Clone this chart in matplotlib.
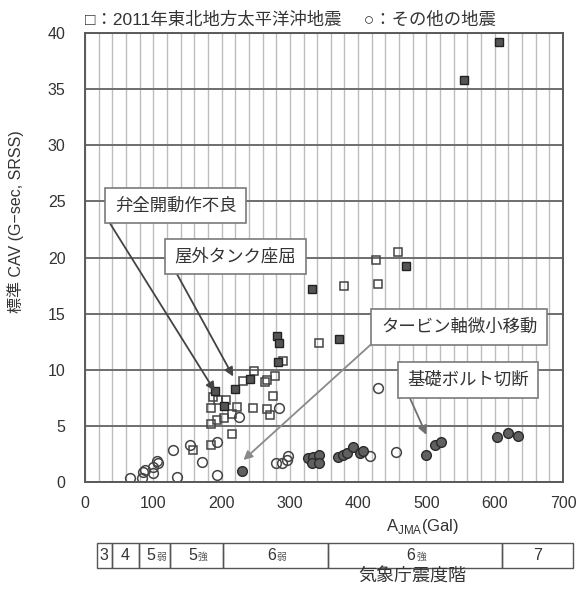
import numpy as np
import matplotlib
matplotlib.use('Agg')
import matplotlib.pyplot as plt
from matplotlib.patches import Rectangle

plt.rcParams['font.family'] = ['Liberation Sans', 'Noto Sans CJK JP']
plt.rcParams['mathtext.fontset'] = 'custom'
plt.rcParams['mathtext.rm'] = 'Liberation Sans'

# 2011 Tohoku event, damaged equipment (filled squares)
tohoku_dmg_x = [606, 555, 470, 333, 372, 281, 284, 282, 242, 220, 190, 203]
tohoku_dmg_y = [39.2, 35.8, 19.2, 17.2, 12.7, 13.0, 12.4, 10.7, 9.15, 8.3, 8.1, 6.8]
# 2011 Tohoku event, no damage (open squares)
tohoku_x = [426, 458, 380, 429, 342, 290, 278, 248, 231, 264, 266, 276, 188, 195,
            207, 185, 222, 246, 266, 271, 215, 203, 193, 185, 215, 184, 158]
tohoku_y = [19.8, 20.5, 17.5, 17.6, 12.4, 10.8, 9.4, 9.9, 9.0, 8.9, 9.1, 7.7, 7.6, 7.3,
            7.3, 6.6, 6.7, 6.6, 6.5, 6.0, 6.1, 5.7, 5.5, 5.2, 4.3, 3.3, 2.85]
# other earthquakes, damaged (filled circles)
other_dmg_x = [230, 327, 334, 342, 332, 342, 371, 378, 383, 393, 403, 407,
               500, 512, 522, 603, 620, 634]
other_dmg_y = [0.98, 2.1, 2.25, 2.4, 1.66, 1.66, 2.25, 2.4, 2.55, 3.1, 2.55, 2.8,
               2.4, 3.3, 3.6, 4.0, 4.4, 4.1]
# other earthquakes, no damage (open circles)
other_x = [66, 83, 85, 88, 100, 100, 107, 105, 129, 135, 154, 171, 193, 193,
           226, 284, 429, 417, 455, 280, 288, 296, 298]
other_y = [0.33, 0.33, 0.92, 1.07, 1.36, 0.77, 1.66, 1.9, 2.85, 0.47, 3.3, 1.8, 3.6, 0.62,
           5.8, 6.6, 8.4, 2.3, 2.7, 1.7, 1.7, 2.0, 2.3]

# callouts: text, box centre, arrow start, arrow end, arrow colour
notes = ['弁全開動作不良', '屋外タンク座屈', 'タービン軸微小移動', '基礎ボルト切断']
note_xy = [(133, 24.6), (220, 20.1), (548, 13.8), (561, 9.1)]
arrow_from = [(36, 23.1), (134, 18.6), (425, 12.6), (476, 7.45)]
arrow_to = [(190, 8.1), (217, 9.4), (232, 1.96), (500, 4.2)]
arrow_col = ['#444444', '#444444', '#8a8a8a', '#707070']

# JMA seismic intensity scale (Gal boundaries)
jma_edges = [17, 39, 79.5, 125, 202, 356, 611, 714]
jma_num = ['3', '4', '5', '5', '6', '6', '7']
jma_sub = ['', '', '弱', '強', '弱', '強', '']

fig = plt.figure(figsize=(5.77, 5.90), dpi=100)
ax = fig.add_axes([85/577, 1-482/590, 478/577, 449/590])
ax.set_xlim(0, 700)
ax.set_ylim(0, 40)
ax.set_xticks(np.arange(0, 701, 100))
ax.set_yticks(np.arange(0, 41, 5))
ax.set_xticks(np.arange(0, 701, 20), minor=True)
ax.grid(True, which='minor', axis='x', color='#bdbdbd', lw=1.0)
ax.grid(True, which='major', axis='x', color='#bdbdbd', lw=1.0)
ax.grid(True, which='major', axis='y', color='#6e6e6e', lw=1.4)
ax.set_axisbelow(True)
for s in ax.spines.values():
    s.set_color('#5a5a5a')
    s.set_linewidth(1.4)
ax.tick_params(which='both', length=0)
ax.tick_params(axis='y', pad=14, labelsize=11.5, labelcolor='#333333')
ax.tick_params(axis='x', pad=10, labelsize=11.5, labelcolor='#333333')

ax.plot(other_x, other_y, 'o', ms=7, mfc='none', mec='#444444', mew=1.1)
ax.plot(other_dmg_x, other_dmg_y, 'o', ms=7, mfc='#606060', mec='#2a2a2a', mew=1.0)
ax.plot(tohoku_x, tohoku_y, 's', ms=6.4, mfc='none', mec='#444444', mew=1.1)
ax.plot(tohoku_dmg_x, tohoku_dmg_y, 's', ms=6.4, mfc='#555555', mec='#222222', mew=1.0)

for i in range(len(notes)):
    ax.annotate('', xy=arrow_to[i], xytext=arrow_from[i],
                arrowprops=dict(arrowstyle='-|>', color=arrow_col[i], lw=1.3,
                                mutation_scale=13, shrinkA=0, shrinkB=0))
    ax.text(note_xy[i][0], note_xy[i][1], notes[i], fontsize=12.5, color='#333333',
            ha='center', va='center', zorder=5,
            bbox=dict(boxstyle='square,pad=0.55', fc='white', ec='#7a7a7a', lw=1.2))

ax.set_ylabel('標準 CAV (G−sec, SRSS)', fontsize=11.5, color='#333333')
ax.yaxis.set_label_coords(-0.128, 0.58)
fig.text(422/577, 1-527/590, r'A$_{\rm JMA}$(Gal)', fontsize=12, color='#333333',
         ha='center', va='center')
fig.text(290/577, 1-20/590, '□：2011年東北地方太平洋沖地震　 ○：その他の地震',
         fontsize=12.5, color='#333333', ha='center', va='center')

# intensity scale strip under the x axis
bx = fig.add_axes([85/577, 1-568/590, 478/577, 25/590])
bx.set_xlim(0, 700)
bx.set_ylim(0, 1)
bx.axis('off')
for i in range(len(jma_num)):
    x0, x1 = jma_edges[i], jma_edges[i+1]
    bx.add_patch(Rectangle((x0, 0), x1-x0, 1, fc='none', ec='#555555', lw=1.0, clip_on=False))
    xc = (x0 + x1) / 2
    if jma_sub[i]:
        bx.text(xc - 6, 0.5, jma_num[i], fontsize=11.5, ha='center', va='center', color='#333333')
        bx.text(xc + 9, 0.44, jma_sub[i], fontsize=7, ha='center', va='center', color='#555555')
    else:
        bx.text(xc, 0.5, jma_num[i], fontsize=11.5, ha='center', va='center', color='#333333')
fig.text(412/577, 1-577/590, '気象庁震度階', fontsize=13, color='#333333',
         ha='center', va='center')

fig.savefig('out.png', dpi=100, facecolor='white')
